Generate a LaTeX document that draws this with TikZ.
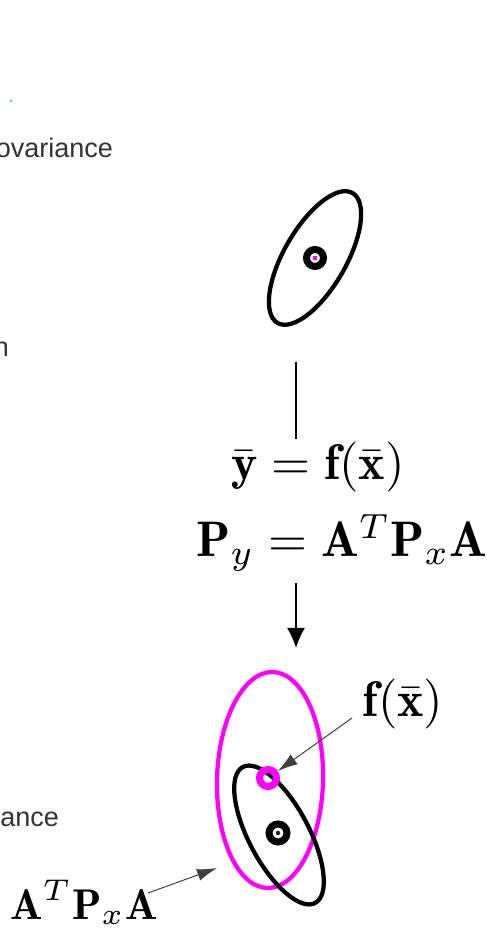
\documentclass[tikz,border=0pt]{standalone}
\usepackage{amsmath,amssymb}
\usepackage{xcolor}
\usepackage{fontspec}
\newfontfamily\cutfont{Liberation Sans}
\usetikzlibrary{arrows.meta,shapes.geometric,positioning}
\definecolor{fuchsia}{RGB}{255,0,255}
\definecolor{specks}{RGB}{90,200,240}
\begin{document}
\begin{tikzpicture}[x=0.2pt, y=0.2pt, >={Latex[length=4pt,width=3.6pt]}]
  \tikzstyle{oval}=[ellipse, draw, line width=0.85pt, inner sep=0pt]
  \tikzstyle{ring}=[circle, draw, inner sep=0pt]
  \tikzstyle{eq}=[inner sep=0.5pt, anchor=base]
  \tikzstyle{cut}=[inner sep=0pt, anchor=base east, text=black!80, font=\cutfont\fontsize{5.4}{6}\selectfont]
  \tikzstyle{pointer}=[->, >={Latex[length=4pt,width=2.4pt]}, line width=0.2pt, black!75]
  \useasboundingbox (0,0) rectangle (487,928);
  \node[cut] (covtop) at (114,770) {ovariance};
  \node[cut] (midtxt) at (10,571) {n};
  \node[cut] (covbot) at (60,101) {ance};
  \fill[specks] (11,827) circle (0.3pt);
  \node[oval, rotate=60, minimum width=30pt, minimum height=12.4pt] (xell) at (315,670) {};
  \node[ring, line width=1.4pt, minimum size=3.4pt] (xmean) at (315,670) {};
  \fill[fuchsia] ([shift={(-0.35pt,-0.35pt)}]xmean.center) rectangle ++(0.7pt,0.7pt);
  \node[eq] (eqy) at (318,448) {$\bar{\mathbf{y}} = \mathbf{f}(\bar{\mathbf{x}})$};
  \node[eq] (eqP) at (342,371) {$\mathbf{P}_y = \mathbf{A}^T\mathbf{P}_x\mathbf{A}$};
  \coordinate (ltop) at (296,566);
  \coordinate (lbot) at (296,280);
  \draw[line width=0.3pt] (ltop) -- (ltop |- eqy.north);
  \draw[->, line width=0.3pt] ([yshift=-1.6pt]ltop |- eqP.south) -- (lbot);
  \node[oval, draw=fuchsia, rotate=-1.5, minimum width=21.2pt, minimum height=43.2pt] (yell) at (270,148) {};
  \node[oval, rotate=-62, minimum width=30.8pt, minimum height=12pt] (tell) at (279,93) {};
  \node[ring, draw=fuchsia, line width=1.4pt, minimum size=3.4pt] (ymean) at (268,150) {};
  \node[ring, line width=1.4pt, minimum size=3.6pt] (tmean) at (278,95) {};
  \fill[black!85] (tmean.center) circle (0.45pt);
  \node[eq] (fx) at (403,211) {$\mathbf{f}(\bar{\mathbf{x}})$};
  \node[eq, font=\fontsize{8.6}{10}\selectfont] (apa) at (84,8) {$\mathbf{A}^T\mathbf{P}_x\mathbf{A}$};
  \coordinate (fxstart) at (352,210);
  \coordinate (apastart) at (148,35);
  \coordinate (apatip) at (217,60);
  \draw[pointer] (fxstart) -- (ymean);
  \draw[pointer] (apastart) -- (apatip);
\end{tikzpicture}
\end{document}
